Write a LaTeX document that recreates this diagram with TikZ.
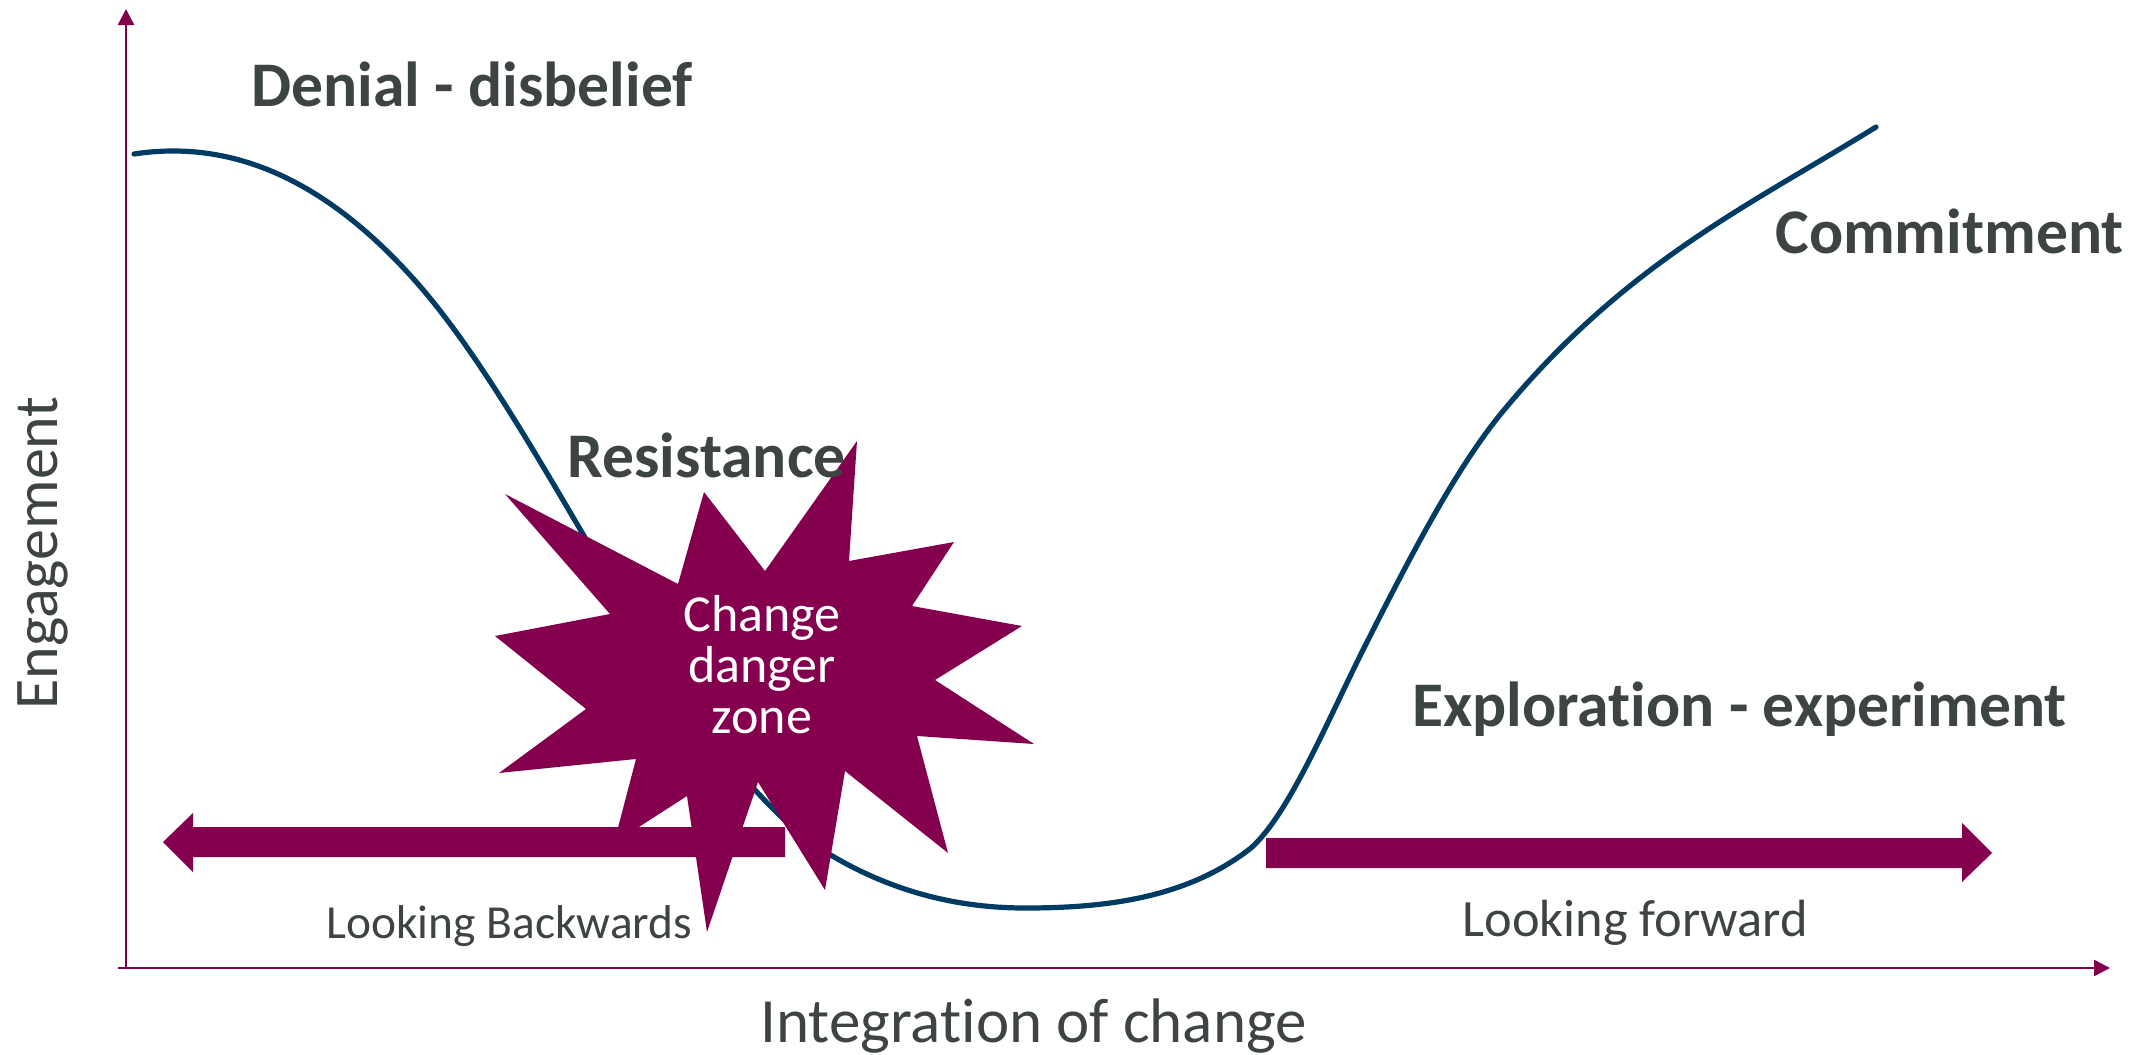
\documentclass[tikz,border=0pt]{standalone}
\usepackage{fontspec}
\setmainfont{Carlito}[Ligatures=CommonOff]
\usetikzlibrary{arrows.meta}
\definecolor{plum}{RGB}{132,0,79}
\definecolor{inkgray}{RGB}{62,67,68}
\definecolor{navy}{RGB}{0,59,100}
\begin{document}
\begin{tikzpicture}[x=0.5pt,y=-0.5pt,
  axisline/.style={plum, line width=1.25pt, -{Triangle[length=8pt,width=8pt]}},
  phase/.style={inkgray, font=\fontsize{31.8}{38}\selectfont\bfseries, inner sep=0pt, anchor=base west},
  note/.style={inkgray, inner sep=0pt, anchor=base west},
  bigarrow/.style={fill=plum, draw=none},
  curve/.style={navy, line width=2.6pt, line cap=round},
]
\useasboundingbox (0,0) rectangle (2144,1055);

% axes
\coordinate (ybase) at (126,969);
\coordinate (ytip) at (126,9);
\coordinate (xbase) at (118,968);
\coordinate (xtip) at (2110,968);
\draw[axisline] (ybase) -- (ytip);
\draw[axisline] (xbase) -- (xtip);

% change curve
\draw[curve] (134,154)
  .. controls (226,140) and (318,174) .. (410,275)
  .. controls (477,348) and (543,467) .. (610,580)
  .. controls (683,704) and (756,810) .. (829,854)
  .. controls (894,893) and (960,908) .. (1025,908)
  .. controls (1100,908) and (1185,900) .. (1251,848)
  .. controls (1290,813) and (1328,719) .. (1367,642)
  .. controls (1413,551) and (1458,465) .. (1504,410)
  .. controls (1628,261) and (1752,204) .. (1876,127);

% looking backwards arrow
\fill[bigarrow] (163,842) -- (193,813) -- (193,827) -- (785,827) -- (785,857)
  -- (193,857) -- (193,872) -- cycle;

% danger zone burst
\fill[plum] (857,441) -- (849,561) -- (954,542) -- (912,606) -- (1022,626)
  -- (935,680) -- (1034,744) -- (917,736) -- (948,853) -- (845,771)
  -- (825,890) -- (758,782) -- (707,932) -- (687,796) -- (614,843)
  -- (636,759) -- (499,773) -- (586,709) -- (495,636) -- (610,614)
  -- (505,494) -- (678,584) -- (704,492) -- (765,571) -- cycle;

% looking forward arrow
\fill[bigarrow] (1266,838) -- (1962,838) -- (1962,823) -- (1992,853)
  -- (1962,882) -- (1962,868) -- (1266,868) -- cycle;

% labels
\node[phase] (denial) at (251,106) {Denial - disbelief};
\node[phase] (resist) at (567,477) {Resistance};
\node[phase] (commit) at (1775,253) {Commitment};
\node[phase] (explore) at (1412,726) {Exploration - experiment};
\node[note, font=\fontsize{23.7}{28}\selectfont] (back) at (326,938) {Looking Backwards};
\node[note, font=\fontsize{26.2}{31}\selectfont] (fwd) at (1462,936) {Looking forward};
\node[note, font=\fontsize{31.5}{38}\selectfont] (xlabel) at (760,1042) {Integration of change};
\node[inkgray, rotate=90, inner sep=0pt, font=\fontsize{31}{37}\selectfont] (ylabel) at (43,553) {Engagement};
\node[white, align=center, inner sep=0pt, font=\fontsize{26}{25.5}\selectfont] (danger) at (762,665) {Change\\danger\\zone};
\end{tikzpicture}
\end{document}
